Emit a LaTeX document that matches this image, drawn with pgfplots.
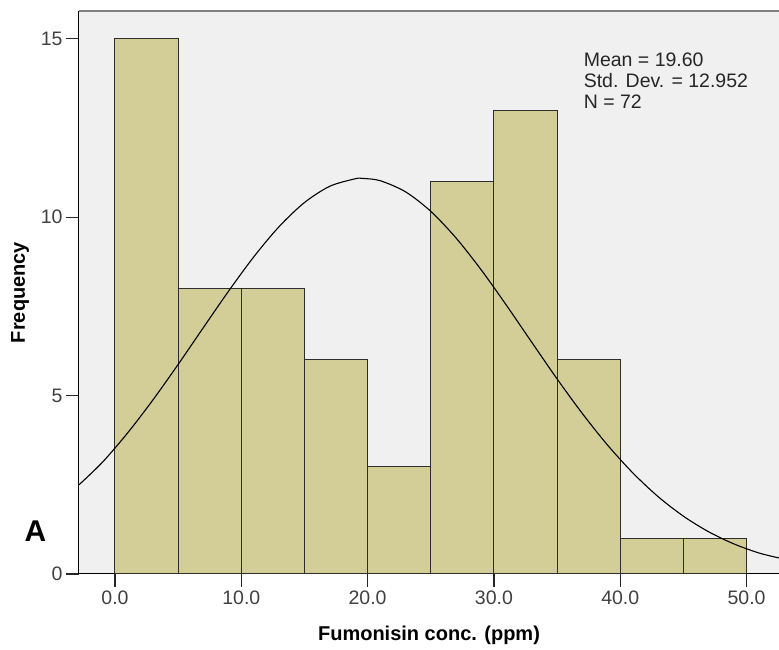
\documentclass[border=0pt]{standalone}
\usepackage{fontspec}
\setmainfont{Liberation Sans}
\usepackage{pgfplots}
\pgfplotsset{compat=1.18}
\definecolor{barfill}{HTML}{D3CE97}
\definecolor{bgfill}{HTML}{F0F0F0}
\definecolor{baredge}{HTML}{2E2E2E}
\begin{document}
\begin{tikzpicture}
\begin{axis}[
  scale only axis,
  width=700pt, height=563pt,
  xmin=-2.85, xmax=52.57,
  ymin=0, ymax=15.78,
  axis x line*=bottom, axis y line*=left,
  axis line style={-, draw=black, line width=1pt},
  axis background/.style={fill=bgfill},
  xtick pos=bottom, ytick pos=left,
  tick align=outside,
  major tick length=13pt,
  major tick style={draw=black!85, line width=1.3pt},
  xtick={0,10,20,30,40,50},
  ytick={0,5,10,15},
  xticklabel={\pgfmathprintnumber[fixed,fixed zerofill,precision=1]{\tick}},
  /pgf/number format/assume math mode=true,
  ticklabel style={font=\fontsize{19.5}{21}\selectfont, text=black!75},
  every axis y label/.style={at={(rel axis cs:0,0.5)}, xshift=-59pt, rotate=90, anchor=center},
  every axis x label/.style={at={(rel axis cs:0.5,0)}, yshift=-61pt, anchor=center},
  xlabel={\fontsize{20}{22}\selectfont\bfseries Fumonisin conc. (ppm)},
  ylabel={\fontsize{20}{22}\selectfont\bfseries Frequency},
  clip=false,
]
\addplot[ybar interval, fill=barfill, draw=baredge, line width=1pt] coordinates {
  (0,15) (5,8) (10,8) (15,6) (20,3) (25,11) (30,13) (35,6) (40,1) (45,1) (50,1)
};
\addplot[smooth, black, line width=1.1pt, no marks] coordinates {
  (-2.85,2.50) (-1,3.130) (1,3.954) (3,4.878) (5,5.874) (7,6.908) (9,7.932)
  (11,8.895) (13,9.739) (15,10.411) (17,10.867) (19,11.076) (19.6,11.088)
  (21,11.023) (23,10.712) (25,10.165) (27,9.418) (29,8.521) (31,7.527)
  (33,6.493) (35,5.468) (37,4.498) (39,3.612) (41,2.832) (43,2.168)
  (45,1.621) (47,1.183) (49,0.843) (51,0.587) (52.57,0.45)
};
\draw[gray, line width=1.5pt] (rel axis cs:0,1) -- (rel axis cs:1,1);
\node[anchor=north west, align=left, inner sep=0pt, font=\fontsize{19.5}{21}\selectfont, text=black!85]
  at (axis cs:37.1,14.6) {Mean = 19.60\\Std. Dev. = 12.952\\N = 72};
\node[font=\fontsize{30}{32}\selectfont\bfseries] at (axis cs:-6.3,1.2) {A};
\end{axis}
\pgfresetboundingbox
\path[use as bounding box] (-79pt,-76pt) rectangle (700pt,574pt);
\end{tikzpicture}
\end{document}
